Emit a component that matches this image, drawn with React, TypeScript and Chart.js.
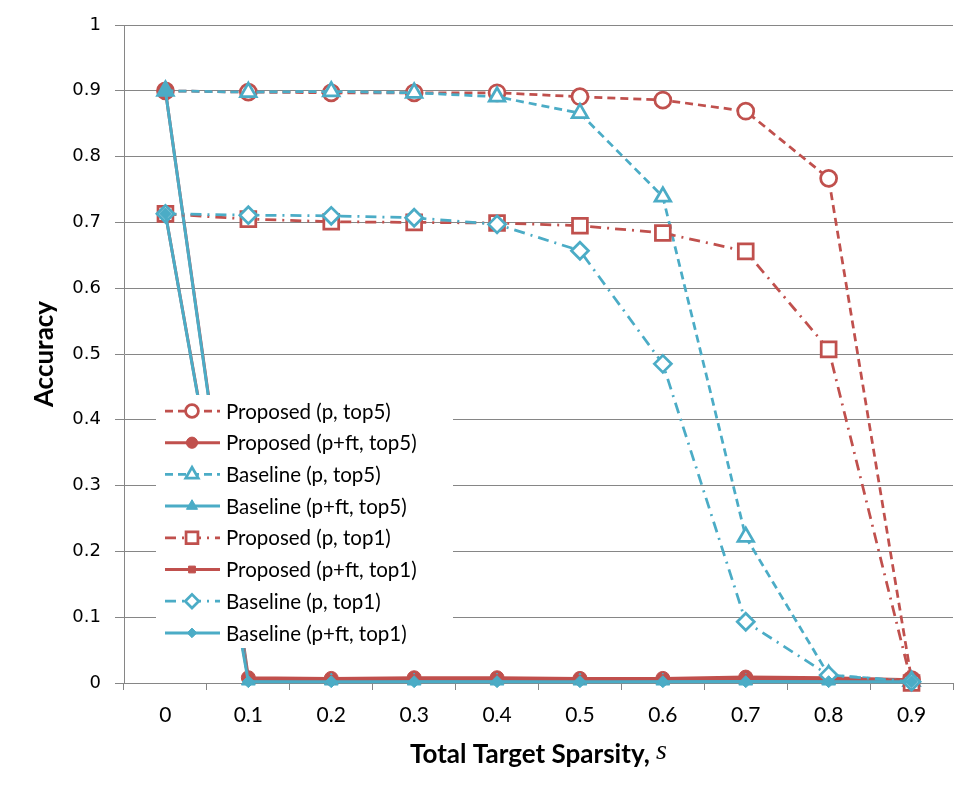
import { useEffect, useRef } from 'react';
import { Chart, registerables } from 'chart.js';
import { drawPoint } from 'chart.js/helpers';

Chart.register(...registerables);

const categories = ['0', '0.1', '0.2', '0.3', '0.4', '0.5', '0.6', '0.7', '0.8', '0.9'];

const proposedPTop5 = [0.9, 0.898, 0.897, 0.897, 0.897, 0.891, 0.886, 0.869, 0.767, 0.005];
const proposedPftTop5 = [0.9, 0.008, 0.007, 0.008, 0.008, 0.007, 0.007, 0.009, 0.008, 0.005];
const baselinePTop5 = [0.9, 0.898, 0.899, 0.897, 0.891, 0.866, 0.739, 0.222, 0.012, 0.003];
const baselinePftTop5 = [0.9, 0.003, 0.003, 0.003, 0.003, 0.003, 0.003, 0.003, 0.003, 0.002];
const proposedPTop1 = [0.713, 0.705, 0.701, 0.7, 0.699, 0.695, 0.684, 0.656, 0.507, 0.0];
const proposedPftTop1 = [0.713, 0.006, 0.005, 0.006, 0.006, 0.005, 0.006, 0.007, 0.006, 0.004];
const baselinePTop1 = [0.713, 0.711, 0.71, 0.707, 0.697, 0.657, 0.485, 0.093, 0.012, 0.002];
const baselinePftTop1 = [0.713, 0.002, 0.002, 0.002, 0.002, 0.002, 0.002, 0.002, 0.002, 0.002];

const seriesLabels = [
  'Proposed (p, top5)',
  'Proposed (p+ft, top5)',
  'Baseline (p, top5)',
  'Baseline (p+ft, top5)',
  'Proposed (p, top1)',
  'Proposed (p+ft, top1)',
  'Baseline (p, top1)',
  'Baseline (p+ft, top1)',
];

const RED = '#C0504D';
const BLUE = '#4BACC6';
const GRID = '#868686';

const DASH = [8, 5];
const DASHDOT = [11, 6, 2, 6];

function ds(label: string, data: number[], color: string, style: string, open: boolean, radius: number, dash: number[]) {
  return {
    label,
    data,
    borderColor: color,
    backgroundColor: open ? '#ffffff' : color,
    borderWidth: open ? 2.75 : 3,
    borderDash: dash,
    pointStyle: style,
    pointRadius: radius,
    pointBorderWidth: open ? 2.75 : 1,
    pointBorderColor: color,
    pointBackgroundColor: open ? '#ffffff' : color,
    tension: 0,
    fill: false,
    clip: false as any,
  };
}

const insideLegend = {
  id: 'insideLegend',
  afterDatasetsDraw(chart: any) {
    const ctx = chart.ctx as CanvasRenderingContext2D;
    ctx.save();
    ctx.fillStyle = '#ffffff';
    ctx.fillRect(156, 395, 297, 253);
    chart.data.datasets.forEach((d: any, i: number) => {
      const y = 411 + i * 31.7;
      ctx.strokeStyle = d.borderColor;
      ctx.lineWidth = d.borderWidth;
      ctx.setLineDash(d.borderDash || []);
      ctx.beginPath();
      ctx.moveTo(165, y);
      ctx.lineTo(220, y);
      ctx.stroke();
      ctx.setLineDash([]);
      ctx.fillStyle = d.pointBackgroundColor;
      ctx.strokeStyle = d.pointBorderColor;
      ctx.lineWidth = d.pointBorderWidth;
      drawPoint(ctx, { pointStyle: d.pointStyle, radius: d.pointRadius * 0.8, rotation: 0, borderWidth: d.pointBorderWidth } as any, 192, y);
      ctx.fillStyle = '#000000';
      ctx.font = '20.5px Lato';
      ctx.textAlign = 'left';
      ctx.textBaseline = 'middle';
      ctx.fillText(d.label, 226, y + 1);
    });
    ctx.restore();
  },
  afterDraw(chart: any) {
    const ctx = chart.ctx as CanvasRenderingContext2D;
    const area = chart.chartArea;
    ctx.save();
    ctx.fillStyle = '#000000';
    ctx.textBaseline = 'middle';
    const part1 = 'Total Target Sparsity, ';
    const part2 = 's';
    ctx.font = 'bold 26px Lato';
    const w1 = ctx.measureText(part1).width;
    ctx.font = 'italic 28px "Liberation Serif"';
    const w2 = ctx.measureText(part2).width;
    const cx = (area.left + area.right) / 2;
    const x0 = cx - (w1 + w2) / 2;
    ctx.textAlign = 'left';
    ctx.font = 'bold 26px Lato';
    ctx.fillText(part1, x0, 755);
    ctx.font = 'italic 28px "Liberation Serif"';
    ctx.fillText(part2, x0 + w1, 752);
    // y title
    ctx.translate(45, (area.top + area.bottom) / 2);
    ctx.rotate(-Math.PI / 2);
    ctx.textAlign = 'center';
    ctx.font = 'bold 26px Lato';
    ctx.fillText('Accuracy', 0, 0);
    ctx.restore();
  },
};

export default function App() {
  const ref = useRef<HTMLCanvasElement | null>(null);
  useEffect(() => {
    if (!ref.current) return;
    const datasets = [
      ds(seriesLabels[0], proposedPTop5, RED, 'circle', true, 8, DASH),
      ds(seriesLabels[1], proposedPftTop5, RED, 'circle', false, 7, []),
      ds(seriesLabels[2], baselinePTop5, BLUE, 'triangle', true, 9, DASH),
      ds(seriesLabels[3], baselinePftTop5, BLUE, 'triangle', false, 8, []),
      ds(seriesLabels[4], proposedPTop1, RED, 'rect', true, 10.5, DASHDOT),
      ds(seriesLabels[5], proposedPftTop1, RED, 'rect', false, 6, []),
      ds(seriesLabels[6], baselinePTop1, BLUE, 'rectRot', true, 8.5, DASHDOT),
      ds(seriesLabels[7], baselinePftTop1, BLUE, 'rectRot', false, 6, []),
    ].map((d, i) => ({ ...d, order: 7 - i }));

    const chart = new Chart(ref.current, {
      type: 'line',
      data: { labels: categories, datasets: datasets as any },
      plugins: [insideLegend],
      options: {
        animation: false,
        responsive: false,
        maintainAspectRatio: false,
        layout: { padding: { left: 0, right: 22, top: 25, bottom: 0 } },
        plugins: {
          legend: { display: false },
          tooltip: { enabled: false },
        },
        scales: {
          x: {
            type: 'category',
            offset: true,
            grid: {
              offset: true,
              drawOnChartArea: false,
              drawTicks: true,
              tickLength: 7,
              color: GRID,
              lineWidth: 1,
            },
            border: { display: true, color: GRID, width: 1 },
            ticks: {
              color: '#000000',
              font: { family: 'Lato', size: 21 },
              padding: 13,
              maxRotation: 0,
            },
            afterFit(scale: any) {
              scale.height = 114;
            },
          },
          y: {
            min: 0,
            max: 1,
            ticks: {
              stepSize: 0.1,
              color: '#000000',
              font: { family: 'DejaVu Sans', size: 18 },
              padding: 14,
              callback: (v: any) => String(Number(Number(v).toFixed(1))),
            },
            grid: {
              color: GRID,
              lineWidth: 1,
              tickLength: 9,
            },
            border: { display: true, color: GRID, width: 1 },
            afterFit(scale: any) {
              scale.width = 124;
            },
          },
        },
      },
    });
    return () => chart.destroy();
  }, []);
  return (
    <div style={{ position: 'absolute', left: 0, top: 0, width: 975, height: 797, background: '#fff' }}>
      <canvas ref={ref} width={975} height={797} style={{ width: 975, height: 797 }} />
    </div>
  );
}
